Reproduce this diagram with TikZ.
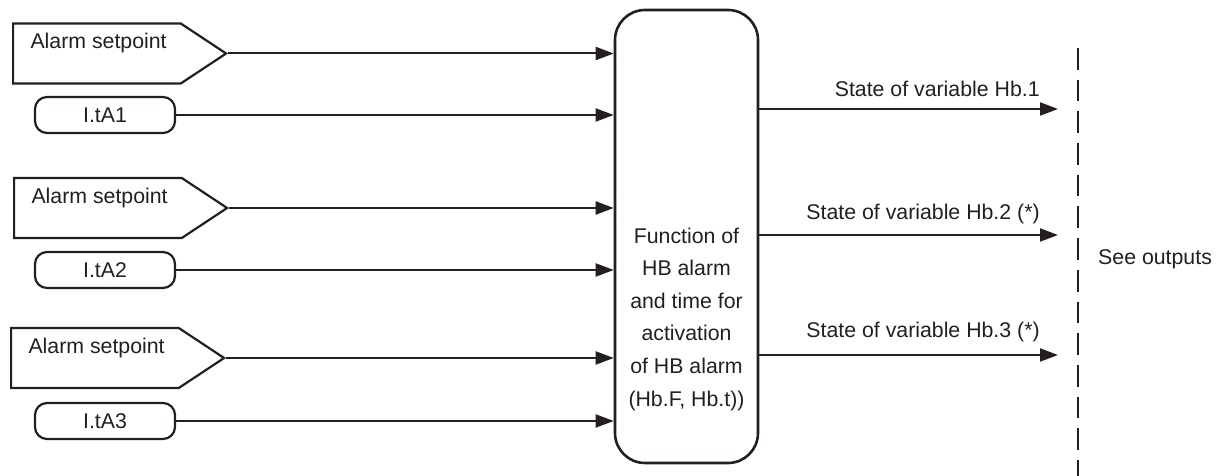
\documentclass[tikz,border=0pt]{standalone}
\usepackage{fontspec}
\setmainfont{Liberation Sans}
\usepackage{tikz}
\usetikzlibrary{arrows.meta}
\usetikzlibrary{shapes.symbols}
\usetikzlibrary{calc}
\definecolor{ink}{RGB}{35,31,32}

\begin{document}
\begin{tikzpicture}[x=1pt,y=1pt,font=\fontsize{21.3}{32.6}\selectfont,color=ink]
\tikzstyle{setpt}=[draw,line width=2.2pt,signal,signal to=east,signal pointer angle=67,minimum width=213pt,minimum height=60pt,inner sep=0pt,anchor=west]
\tikzstyle{tbox}=[draw,line width=2.2pt,rounded corners=12pt,minimum width=140pt,minimum height=36pt,inner sep=0pt]
\tikzstyle{conn}=[line width=2pt,-{Triangle[length=18pt,width=13pt]}]
\tikzstyle{outlbl}=[anchor=base east,xshift=-14pt]
\useasboundingbox (0,0) rectangle (1221,476);
% inputs
\node [setpt] (sp1) at (12,422.5) {};
\node [anchor=base west] (sp1txt) at ($(sp1.west)+(15pt,4.5pt)$) {Alarm setpoint};
\node [tbox] (ita1) at (105,361) {I.tA1};
\node [setpt] (sp2) at (13,268) {};
\node [anchor=base west] (sp2txt) at ($(sp2.west)+(15pt,4.5pt)$) {Alarm setpoint};
\node [tbox] (ita2) at (105,206) {I.tA2};
\node [setpt] (sp3) at (10,118) {};
\node [anchor=base west] (sp3txt) at ($(sp3.west)+(15pt,4.5pt)$) {Alarm setpoint};
\node [tbox] (ita3) at (105,55) {I.tA3};
% function block
\node [draw,line width=2.6pt,rounded corners=30pt,minimum width=143pt,minimum height=453pt] (func) at (686.5,239.5) {};
\node [align=center] (functxt) at (686.5,157) {Function of\\HB alarm\\and time for\\activation\\of HB alarm\\(Hb.F, Hb.t))};
\draw [conn] (sp1.east) -- (sp1.east -| func.west);
\draw [conn] (ita1.east) -- (ita1.east -| func.west);
\draw [conn] (sp2.east) -- (sp2.east -| func.west);
\draw [conn] (ita2.east) -- (ita2.east -| func.west);
\draw [conn] (sp3.east) -- (sp3.east -| func.west);
\draw [conn] (ita3.east) -- (ita3.east -| func.west);
% outputs
\coordinate (out1) at (1058,367);
\coordinate (out2) at (1058,241);
\coordinate (out3) at (1058,121);
\draw [conn] (func.east |- out1) -- (out1) node [outlbl,yshift=12pt] {State of variable Hb.1};
\draw [conn] (func.east |- out2) -- (out2) node [outlbl,yshift=15pt] {State of variable Hb.2 (*)};
\draw [conn] (func.east |- out3) -- (out3) node [outlbl,yshift=17pt] {State of variable Hb.3 (*)};
\coordinate (sep top) at (1078,428);
\coordinate (sep bot) at (1078,0);
\draw [line width=2pt,dash pattern=on 21.7pt off 10pt] (sep top) -- (sep bot);
\node [anchor=base west] (seeout) at (1094.7,211) {See outputs};
\end{tikzpicture}
\end{document}
